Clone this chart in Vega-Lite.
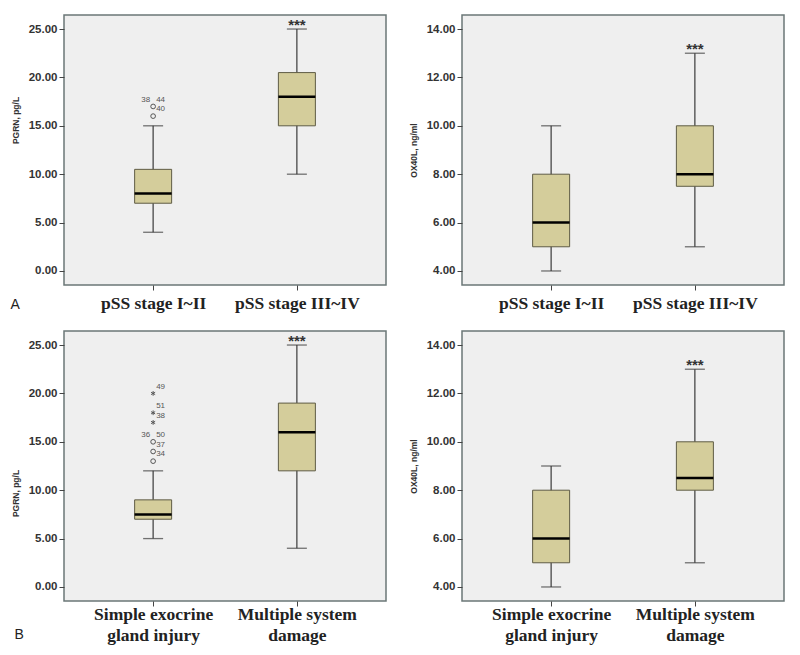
{
  "$schema": "https://vega.github.io/schema/vega-lite/v6.json",
  "padding": {"left": 9, "top": 14, "right": 5, "bottom": 5},
  "background": "white",
  "spacing": 17,
  "config": {
    "view": {"fill": "#efefef", "stroke": "#6b7777", "strokeWidth": 1.5},
    "axis": {"grid": false, "domain": false, "tickColor": "#444", "tickSize": 5, "tickWidth": 1},
    "axisY": {"labelFont": "Liberation Sans", "labelFontWeight": "bold", "labelFontSize": 11.5, "labelColor": "#333", "labelPadding": 2, "titleFont": "Liberation Sans", "titleFontSize": 8.5, "titleFontWeight": "bold", "titleColor": "#333", "titlePadding": 8},
    "axisX": {"labelFont": "Liberation Serif", "labelFontWeight": "bold", "labelFontSize": 17.5, "labelColor": "#222", "labelAngle": 0, "labelPadding": 4, "labelLineHeight": 21},
    "concat": {"spacing": 21}
  },
  "datasets": {
    "boxes": [
      {"panel": "AL", "group": "pSS stage I~II", "min": 4, "q1": 7, "median": 8, "q3": 10.5, "max": 15, "sig": ""},
      {"panel": "AL", "group": "pSS stage III~IV", "min": 10, "q1": 15, "median": 18, "q3": 20.5, "max": 25, "sig": "***"},
      {"panel": "AR", "group": "pSS stage I~II", "min": 4, "q1": 5, "median": 6, "q3": 8, "max": 10, "sig": ""},
      {"panel": "AR", "group": "pSS stage III~IV", "min": 5, "q1": 7.5, "median": 8, "q3": 10, "max": 13, "sig": "***"},
      {"panel": "BL", "group": "Simple exocrine gland injury", "min": 5, "q1": 7, "median": 7.5, "q3": 9, "max": 12, "sig": ""},
      {"panel": "BL", "group": "Multiple system damage", "min": 4, "q1": 12, "median": 16, "q3": 19, "max": 25, "sig": "***"},
      {"panel": "BR", "group": "Simple exocrine gland injury", "min": 4, "q1": 5, "median": 6, "q3": 8, "max": 9, "sig": ""},
      {"panel": "BR", "group": "Multiple system damage", "min": 5, "q1": 8, "median": 8.5, "q3": 10, "max": 13, "sig": "***"}
    ],
    "outliers": [
      {"panel": "AL", "group": "pSS stage I~II", "value": 17, "kind": "outlier"},
      {"panel": "AL", "group": "pSS stage I~II", "value": 16, "kind": "outlier"},
      {"panel": "BL", "group": "Simple exocrine gland injury", "value": 20, "kind": "extreme"},
      {"panel": "BL", "group": "Simple exocrine gland injury", "value": 18, "kind": "extreme"},
      {"panel": "BL", "group": "Simple exocrine gland injury", "value": 17, "kind": "extreme"},
      {"panel": "BL", "group": "Simple exocrine gland injury", "value": 15, "kind": "outlier"},
      {"panel": "BL", "group": "Simple exocrine gland injury", "value": 14, "kind": "outlier"},
      {"panel": "BL", "group": "Simple exocrine gland injury", "value": 13, "kind": "outlier"}
    ],
    "labels": [
      {"panel": "AL", "group": "pSS stage I~II", "value": 17.7, "label": "38", "side": "left"},
      {"panel": "AL", "group": "pSS stage I~II", "value": 17.7, "label": "44", "side": "right"},
      {"panel": "AL", "group": "pSS stage I~II", "value": 16.7, "label": "40", "side": "right"},
      {"panel": "BL", "group": "Simple exocrine gland injury", "value": 20.7, "label": "49", "side": "right"},
      {"panel": "BL", "group": "Simple exocrine gland injury", "value": 18.7, "label": "51", "side": "right"},
      {"panel": "BL", "group": "Simple exocrine gland injury", "value": 17.7, "label": "38", "side": "right"},
      {"panel": "BL", "group": "Simple exocrine gland injury", "value": 15.7, "label": "36", "side": "left"},
      {"panel": "BL", "group": "Simple exocrine gland injury", "value": 15.7, "label": "50", "side": "right"},
      {"panel": "BL", "group": "Simple exocrine gland injury", "value": 14.7, "label": "37", "side": "right"},
      {"panel": "BL", "group": "Simple exocrine gland injury", "value": 13.7, "label": "34", "side": "right"}
    ]
  },
  "vconcat": [
    {
      "hconcat": [
        {
          "width": 322, "height": 270,
          "encoding": {"x": {"field": "group", "type": "nominal", "scale": {"type": "point", "padding": 0.62, "domain": ["pSS stage I~II", "pSS stage III~IV"]},
            "axis": {"title": "A", "titleX": -54, "titleY": 23, "titleAlign": "left", "titleBaseline": "alphabetic", "titleAngle": 0, "titleFont": "Liberation Sans", "titleFontWeight": "normal", "titleFontSize": 14, "titleColor": "#222"}}},
          "layer": [
            {"data": {"name": "boxes"}, "transform": [{"filter": "datum.panel == 'AL'"}],
             "mark": {"type": "rule", "color": "#3a3a3a", "strokeWidth": 1.2},
             "encoding": {"y": {"field": "min", "type": "quantitative", "scale": {"domain": [-1.45, 26.45], "nice": false, "zero": false}, "axis": {"values": [0, 5, 10, 15, 20, 25], "format": ".2f", "title": "PGRN, pg/L", "titleY": 105}}, "y2": {"field": "max"}}},
            {"data": {"name": "boxes"}, "transform": [{"filter": "datum.panel == 'AL'"}],
             "mark": {"type": "tick", "color": "#3a3a3a", "size": 20, "thickness": 1.3},
             "encoding": {"y": {"field": "min", "type": "quantitative"}}},
            {"data": {"name": "boxes"}, "transform": [{"filter": "datum.panel == 'AL'"}],
             "mark": {"type": "tick", "color": "#3a3a3a", "size": 20, "thickness": 1.3},
             "encoding": {"y": {"field": "max", "type": "quantitative"}}},
            {"data": {"name": "boxes"}, "transform": [{"filter": "datum.panel == 'AL'"}],
             "mark": {"type": "bar", "size": 37, "fill": "#d4cd9b", "stroke": "#5f5c45", "strokeWidth": 1},
             "encoding": {"y": {"field": "q1", "type": "quantitative"}, "y2": {"field": "q3"}}},
            {"data": {"name": "boxes"}, "transform": [{"filter": "datum.panel == 'AL'"}],
             "mark": {"type": "tick", "color": "#000", "size": 37, "thickness": 2.5, "opacity": 1},
             "encoding": {"y": {"field": "median", "type": "quantitative"}}},
            {"data": {"name": "boxes"}, "transform": [{"filter": "datum.panel == 'AL'"}],
             "mark": {"type": "text", "font": "Liberation Sans", "fontSize": 15, "fontWeight": "bold", "baseline": "alphabetic", "dy": 1, "color": "#333"},
             "encoding": {"y": {"field": "max", "type": "quantitative"}, "text": {"field": "sig"}}},
            {"data": {"name": "outliers"}, "transform": [{"filter": "datum.panel == 'AL'"}],
             "mark": {"type": "point", "filled": false, "size": 22, "strokeWidth": 1, "color": "#555", "opacity": 1},
             "encoding": {"y": {"field": "value", "type": "quantitative"}, "shape": {"field": "kind", "type": "nominal", "legend": null, "scale": {"domain": ["outlier", "extreme"], "range": ["circle", "M0,-1L0,1M-0.87,-0.5L0.87,0.5M-0.87,0.5L0.87,-0.5"]}}}},
            {"data": {"name": "labels"}, "transform": [{"filter": "datum.panel == 'AL' && datum.side == 'left'"}],
             "mark": {"type": "text", "font": "Liberation Sans", "fontSize": 8, "color": "#555", "align": "right", "dx": -3},
             "encoding": {"y": {"field": "value", "type": "quantitative"}, "text": {"field": "label"}}},
            {"data": {"name": "labels"}, "transform": [{"filter": "datum.panel == 'AL' && datum.side == 'right'"}],
             "mark": {"type": "text", "font": "Liberation Sans", "fontSize": 8, "color": "#555", "align": "left", "dx": 3},
             "encoding": {"y": {"field": "value", "type": "quantitative"}, "text": {"field": "label"}}}
          ]
        },
        {
          "width": 322, "height": 270,
          "encoding": {"x": {"field": "group", "type": "nominal", "scale": {"type": "point", "padding": 0.62, "domain": ["pSS stage I~II", "pSS stage III~IV"]}, "axis": {"title": null}}},
          "layer": [
            {"data": {"name": "boxes"}, "transform": [{"filter": "datum.panel == 'AR'"}],
             "mark": {"type": "rule", "color": "#3a3a3a", "strokeWidth": 1.2},
             "encoding": {"y": {"field": "min", "type": "quantitative", "scale": {"domain": [3.42, 14.58], "nice": false, "zero": false}, "axis": {"values": [4, 6, 8, 10, 12, 14], "format": ".2f", "title": "OX40L, ng/ml"}}, "y2": {"field": "max"}}},
            {"data": {"name": "boxes"}, "transform": [{"filter": "datum.panel == 'AR'"}],
             "mark": {"type": "tick", "color": "#3a3a3a", "size": 20, "thickness": 1.3},
             "encoding": {"y": {"field": "min", "type": "quantitative"}}},
            {"data": {"name": "boxes"}, "transform": [{"filter": "datum.panel == 'AR'"}],
             "mark": {"type": "tick", "color": "#3a3a3a", "size": 20, "thickness": 1.3},
             "encoding": {"y": {"field": "max", "type": "quantitative"}}},
            {"data": {"name": "boxes"}, "transform": [{"filter": "datum.panel == 'AR'"}],
             "mark": {"type": "bar", "size": 37, "fill": "#d4cd9b", "stroke": "#5f5c45", "strokeWidth": 1},
             "encoding": {"y": {"field": "q1", "type": "quantitative"}, "y2": {"field": "q3"}}},
            {"data": {"name": "boxes"}, "transform": [{"filter": "datum.panel == 'AR'"}],
             "mark": {"type": "tick", "color": "#000", "size": 37, "thickness": 2.5, "opacity": 1},
             "encoding": {"y": {"field": "median", "type": "quantitative"}}},
            {"data": {"name": "boxes"}, "transform": [{"filter": "datum.panel == 'AR'"}],
             "mark": {"type": "text", "font": "Liberation Sans", "fontSize": 15, "fontWeight": "bold", "baseline": "alphabetic", "dy": 1, "color": "#333"},
             "encoding": {"y": {"field": "max", "type": "quantitative"}, "text": {"field": "sig"}}}
          ]
        }
      ]
    },
    {
      "hconcat": [
        {
          "width": 322, "height": 270,
          "encoding": {"x": {"field": "group", "type": "nominal", "scale": {"type": "point", "padding": 0.62, "domain": ["Simple exocrine gland injury", "Multiple system damage"]},
            "axis": {"labelExpr": "datum.label == 'Simple exocrine gland injury' ? ['Simple exocrine', 'gland injury'] : ['Multiple system', 'damage']", "labelPadding": -1, "title": "B", "titleX": -50, "titleY": 37, "titleAlign": "left", "titleBaseline": "alphabetic", "titleAngle": 0, "titleFont": "Liberation Sans", "titleFontWeight": "normal", "titleFontSize": 14, "titleColor": "#222"}}},
          "layer": [
            {"data": {"name": "boxes"}, "transform": [{"filter": "datum.panel == 'BL'"}],
             "mark": {"type": "rule", "color": "#3a3a3a", "strokeWidth": 1.2},
             "encoding": {"y": {"field": "min", "type": "quantitative", "scale": {"domain": [-1.45, 26.45], "nice": false, "zero": false}, "axis": {"values": [0, 5, 10, 15, 20, 25], "format": ".2f", "title": "PGRN, pg/L", "titleY": 162}}, "y2": {"field": "max"}}},
            {"data": {"name": "boxes"}, "transform": [{"filter": "datum.panel == 'BL'"}],
             "mark": {"type": "tick", "color": "#3a3a3a", "size": 20, "thickness": 1.3},
             "encoding": {"y": {"field": "min", "type": "quantitative"}}},
            {"data": {"name": "boxes"}, "transform": [{"filter": "datum.panel == 'BL'"}],
             "mark": {"type": "tick", "color": "#3a3a3a", "size": 20, "thickness": 1.3},
             "encoding": {"y": {"field": "max", "type": "quantitative"}}},
            {"data": {"name": "boxes"}, "transform": [{"filter": "datum.panel == 'BL'"}],
             "mark": {"type": "bar", "size": 37, "fill": "#d4cd9b", "stroke": "#5f5c45", "strokeWidth": 1},
             "encoding": {"y": {"field": "q1", "type": "quantitative"}, "y2": {"field": "q3"}}},
            {"data": {"name": "boxes"}, "transform": [{"filter": "datum.panel == 'BL'"}],
             "mark": {"type": "tick", "color": "#000", "size": 37, "thickness": 2.5, "opacity": 1},
             "encoding": {"y": {"field": "median", "type": "quantitative"}}},
            {"data": {"name": "boxes"}, "transform": [{"filter": "datum.panel == 'BL'"}],
             "mark": {"type": "text", "font": "Liberation Sans", "fontSize": 15, "fontWeight": "bold", "baseline": "alphabetic", "dy": 1, "color": "#333"},
             "encoding": {"y": {"field": "max", "type": "quantitative"}, "text": {"field": "sig"}}},
            {"data": {"name": "outliers"}, "transform": [{"filter": "datum.panel == 'BL'"}],
             "mark": {"type": "point", "filled": false, "size": 22, "strokeWidth": 1, "color": "#555", "opacity": 1},
             "encoding": {"y": {"field": "value", "type": "quantitative"}, "shape": {"field": "kind", "type": "nominal", "legend": null, "scale": {"domain": ["outlier", "extreme"], "range": ["circle", "M0,-1L0,1M-0.87,-0.5L0.87,0.5M-0.87,0.5L0.87,-0.5"]}}}},
            {"data": {"name": "labels"}, "transform": [{"filter": "datum.panel == 'BL' && datum.side == 'left'"}],
             "mark": {"type": "text", "font": "Liberation Sans", "fontSize": 8, "color": "#555", "align": "right", "dx": -3},
             "encoding": {"y": {"field": "value", "type": "quantitative"}, "text": {"field": "label"}}},
            {"data": {"name": "labels"}, "transform": [{"filter": "datum.panel == 'BL' && datum.side == 'right'"}],
             "mark": {"type": "text", "font": "Liberation Sans", "fontSize": 8, "color": "#555", "align": "left", "dx": 3},
             "encoding": {"y": {"field": "value", "type": "quantitative"}, "text": {"field": "label"}}}
          ]
        },
        {
          "width": 322, "height": 270,
          "encoding": {"x": {"field": "group", "type": "nominal", "scale": {"type": "point", "padding": 0.62, "domain": ["Simple exocrine gland injury", "Multiple system damage"]},
            "axis": {"labelExpr": "datum.label == 'Simple exocrine gland injury' ? ['Simple exocrine', 'gland injury'] : ['Multiple system', 'damage']", "labelPadding": -1, "title": null}}},
          "layer": [
            {"data": {"name": "boxes"}, "transform": [{"filter": "datum.panel == 'BR'"}],
             "mark": {"type": "rule", "color": "#3a3a3a", "strokeWidth": 1.2},
             "encoding": {"y": {"field": "min", "type": "quantitative", "scale": {"domain": [3.42, 14.58], "nice": false, "zero": false}, "axis": {"values": [4, 6, 8, 10, 12, 14], "format": ".2f", "title": "OX40L, ng/ml"}}, "y2": {"field": "max"}}},
            {"data": {"name": "boxes"}, "transform": [{"filter": "datum.panel == 'BR'"}],
             "mark": {"type": "tick", "color": "#3a3a3a", "size": 20, "thickness": 1.3},
             "encoding": {"y": {"field": "min", "type": "quantitative"}}},
            {"data": {"name": "boxes"}, "transform": [{"filter": "datum.panel == 'BR'"}],
             "mark": {"type": "tick", "color": "#3a3a3a", "size": 20, "thickness": 1.3},
             "encoding": {"y": {"field": "max", "type": "quantitative"}}},
            {"data": {"name": "boxes"}, "transform": [{"filter": "datum.panel == 'BR'"}],
             "mark": {"type": "bar", "size": 37, "fill": "#d4cd9b", "stroke": "#5f5c45", "strokeWidth": 1},
             "encoding": {"y": {"field": "q1", "type": "quantitative"}, "y2": {"field": "q3"}}},
            {"data": {"name": "boxes"}, "transform": [{"filter": "datum.panel == 'BR'"}],
             "mark": {"type": "tick", "color": "#000", "size": 37, "thickness": 2.5, "opacity": 1},
             "encoding": {"y": {"field": "median", "type": "quantitative"}}},
            {"data": {"name": "boxes"}, "transform": [{"filter": "datum.panel == 'BR'"}],
             "mark": {"type": "text", "font": "Liberation Sans", "fontSize": 15, "fontWeight": "bold", "baseline": "alphabetic", "dy": 1, "color": "#333"},
             "encoding": {"y": {"field": "max", "type": "quantitative"}, "text": {"field": "sig"}}}
          ]
        }
      ]
    }
  ]
}
